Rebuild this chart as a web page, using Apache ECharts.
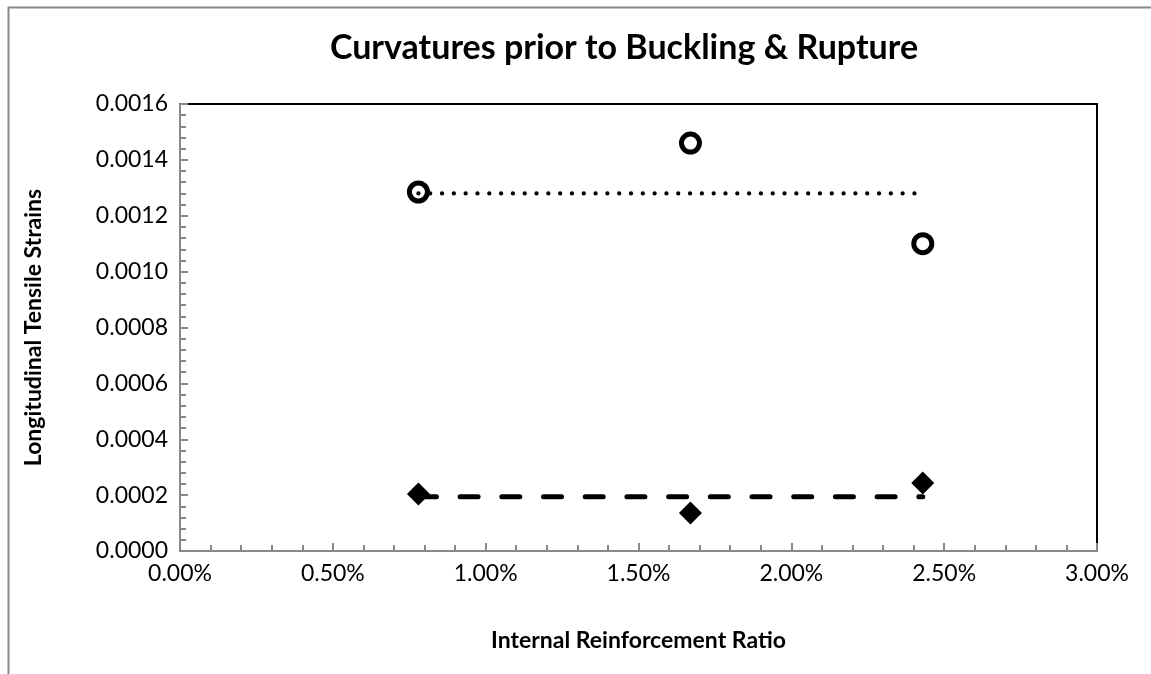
<!DOCTYPE html>
<html>
<head>
<meta charset="utf-8">
<script src="https://cdn.jsdelivr.net/npm/echarts@6/dist/echarts.min.js"></script>
<style>
html,body{margin:0;padding:0;background:#fff;}
#chart{width:1151px;height:674px;}
</style>
</head>
<body>
<div id="chart"></div>
<script>
// ---- data ----
var ratios = [0.0078, 0.0167, 0.0243];
var ruptureStrains = [0.001285, 0.00146, 0.00110];
var bucklingStrains = [0.000204, 0.000136, 0.000243];
var avgRange = [0.0078, 0.0243];
var ruptureAvg = 0.00128;
var bucklingAvg = 0.000194;
var xTicks = [0, 0.005, 0.01, 0.015, 0.02, 0.025, 0.03];
var yTicks = [0, 0.0002, 0.0004, 0.0006, 0.0008, 0.001, 0.0012, 0.0014, 0.0016];
var titleText = 'Curvatures prior to Buckling & Rupture';
var xTitle = 'Internal Reinforcement Ratio';
var yTitle = 'Longitudinal Tensile Strains';

var FONT = 'Lato';
var chart = echarts.init(document.getElementById('chart'), null, {renderer: 'canvas'});

function pairs(xs, ys) { return xs.map(function (x, i) { return [x, ys[i]]; }); }

var option = {
  backgroundColor: '#fff',
  animation: false,
  graphic: [
    {type: 'rect', left: 6, top: 5, shape: {width: 2000, height: 2000},
     style: {fill: 'none', stroke: '#898989', lineWidth: 2}, z: -10, silent: true},
    {type: 'text', x: 624, y: 48,
     style: {text: titleText, fontFamily: FONT, fontWeight: 'bold', fontSize: 34,
             fill: '#000', textAlign: 'center', textVerticalAlign: 'middle'}}
  ],
  grid: {left: 180, top: 104, width: 917, height: 447, show: true,
         borderColor: '#000', borderWidth: 2, backgroundColor: '#fff'},
  xAxis: {
    type: 'value', min: xTicks[0], max: xTicks[xTicks.length - 1], interval: 0.005,
    name: xTitle, nameLocation: 'middle', nameGap: 78,
    nameTextStyle: {fontFamily: FONT, fontWeight: 'bold', fontSize: 23, color: '#000'},
    axisLine: {show: true, onZero: false, lineStyle: {color: '#898989', width: 2}},
    axisTick: {show: true, inside: true, length: 8, lineStyle: {color: '#898989', width: 2}},
    minorTick: {show: true, splitNumber: 5, length: 6, lineStyle: {color: '#898989', width: 2}},
    splitLine: {show: false},
    axisLabel: {fontFamily: FONT, fontSize: 23, color: '#000', margin: 11,
      formatter: function (v) { return (v * 100).toFixed(2) + '%'; }}
  },
  yAxis: {
    type: 'value', min: yTicks[0], max: yTicks[yTicks.length - 1], interval: 0.0002,
    name: yTitle, nameLocation: 'middle', nameGap: 135, nameRotate: 90,
    nameTextStyle: {fontFamily: FONT, fontWeight: 'bold', fontSize: 23, color: '#000'},
    axisLine: {show: true, onZero: false, lineStyle: {color: '#898989', width: 2}},
    axisTick: {show: true, inside: true, length: 8, lineStyle: {color: '#898989', width: 2}},
    minorTick: {show: true, splitNumber: 5, length: 6, lineStyle: {color: '#898989', width: 2}},
    splitLine: {show: false},
    axisLabel: {fontFamily: FONT, fontSize: 23, color: '#000', margin: 12,
      formatter: function (v) { return v.toFixed(4); }}
  },
  series: [
    {
      name: 'Rupture average', type: 'line', data: pairs(avgRange, [ruptureAvg, ruptureAvg]),
      showSymbol: false, symbol: 'none', z: 2,
      lineStyle: {color: '#000', width: 4.3, type: [0.01, 11.8], cap: 'round', opacity: 1}
    },
    {
      name: 'Buckling average', type: 'line', data: pairs(avgRange, [bucklingAvg, bucklingAvg]),
      showSymbol: false, symbol: 'none', z: 2,
      lineStyle: {color: '#000', width: 5, type: [18, 23.7], cap: 'round', opacity: 1}
    },
    {
      name: 'Rupture', type: 'scatter', data: pairs(ratios, ruptureStrains),
      symbol: 'circle', symbolSize: 18, z: 3,
      itemStyle: {color: 'rgba(0,0,0,0)', borderColor: '#000', borderWidth: 5, opacity: 1}
    },
    {
      name: 'Buckling', type: 'scatter', data: pairs(ratios, bucklingStrains),
      symbol: 'diamond', symbolSize: 23, z: 3,
      itemStyle: {color: '#000', opacity: 1}
    }
  ]
};
chart.setOption(option);
</script>
</body>
</html>
